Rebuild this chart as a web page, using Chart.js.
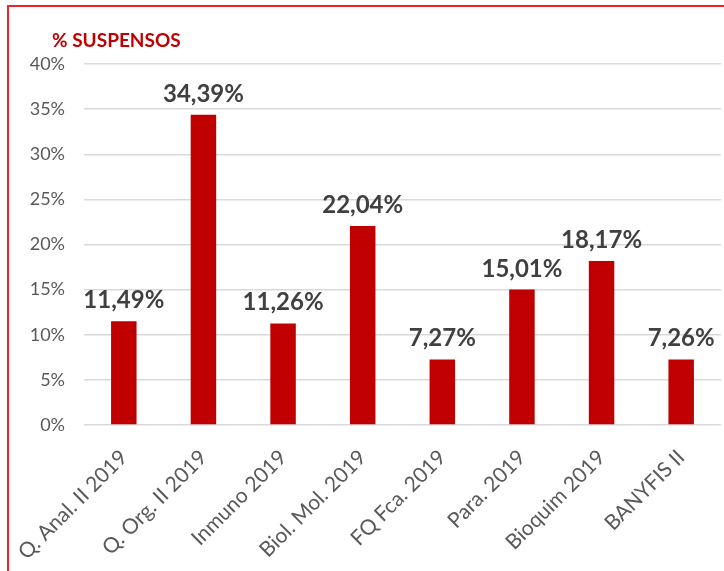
<!DOCTYPE html>
<html lang="es">
<head>
    <meta charset="UTF-8">
    <title>% Suspensos</title>
    <script src="https://cdn.jsdelivr.net/npm/chart.js"></script>
    <style>
        body { margin: 0; background: #fff; }
        #wrap { position: relative; width: 724px; height: 571px; }
        #frame { position: absolute; left: 7px; top: 5px; right: -10px; bottom: -10px;
                 border-top: 2px solid #e8262b; border-left: 2px solid #e8262b; pointer-events: none; }
    </style>
</head>
<body>
    <div id="wrap">
        <canvas id="suspChart" width="724" height="571"></canvas>
        <div id="frame"></div>
    </div>

    <script>
        const categories = ['Q. Anal. II 2019', 'Q. Org. II 2019', 'Inmuno 2019', 'Biol. Mol. 2019',
                            'FQ Fca. 2019', 'Para. 2019', 'Bioquim 2019', 'BANYFIS II'];
        const suspensos = [11.49, 34.39, 11.26, 22.04, 7.27, 15.01, 18.17, 7.26];
        const yTicks = [0, 5, 10, 15, 20, 25, 30, 35, 40];

        const fmt = v => v.toFixed(2).replace('.', ',') + '%';

        // labels above the bars + red title
        const extras = {
            id: 'extras',
            afterDatasetsDraw(chart) {
                const ctx = chart.ctx;
                const meta = chart.getDatasetMeta(0);
                ctx.save();
                ctx.fillStyle = '#404040';
                ctx.font = 'bold 24px Lato';
                ctx.textAlign = 'center';
                ctx.textBaseline = 'alphabetic';
                meta.data.forEach((bar, i) => {
                    ctx.fillText(fmt(suspensos[i]), bar.x, bar.y - 13);
                });
                ctx.fillStyle = '#c00000';
                ctx.font = 'bold 19px Lato';
                ctx.textAlign = 'left';
                ctx.fillText('% SUSPENSOS', chart.chartArea.left - 32, chart.chartArea.top - 17);
                ctx.restore();
            }
        };

        new Chart(document.getElementById('suspChart'), {
            type: 'bar',
            data: {
                labels: categories,
                datasets: [{
                    label: '% suspensos',
                    data: suspensos,
                    backgroundColor: '#c00000',
                    categoryPercentage: 1,
                    barPercentage: 0.32
                }]
            },
            options: {
                responsive: false,
                animation: false,
                layout: { padding: { top: 64, right: 3, left: 0, bottom: 0 } },
                plugins: { legend: { display: false }, tooltip: { enabled: false } },
                scales: {
                    x: {
                        grid: { display: false },
                        border: { display: false },
                        ticks: {
                            color: '#595959', font: { family: 'Lato', size: 21 },
                            minRotation: 45, maxRotation: 45, padding: 12
                        },
                        afterFit: s => { s.height = 146; }
                    },
                    y: {
                        min: 0, max: 40,
                        afterBuildTicks: s => { s.ticks = yTicks.map(v => ({ value: v })); },
                        grid: { color: '#d9d9d9', lineWidth: 1.5, drawTicks: false },
                        border: { display: false },
                        ticks: {
                            color: '#595959', font: { family: 'Lato', size: 18 }, padding: 19,
                            callback: v => v + '%'
                        },
                        afterFit: s => { s.width = 84; }
                    }
                }
            },
            plugins: [extras]
        });
    </script>
</body>
</html>
